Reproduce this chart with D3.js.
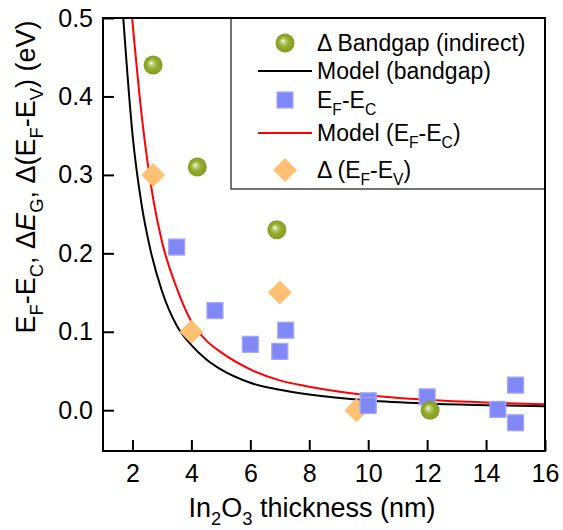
<!DOCTYPE html>
<html>
<head>
<meta charset="utf-8">
<script src="https://cdn.jsdelivr.net/npm/d3@7"></script>
<style>
  body { margin: 0; background: #fff; }
  svg { display: block; }
  text { font-family: "Liberation Sans", Arial, sans-serif; fill: #000; }
</style>
</head>
<body>
<svg id="chart" width="563" height="530"></svg>
<script>
// Axis ticks
const xTicks = [2, 4, 6, 8, 10, 12, 14, 16];
const yTicks = [0, 0.1, 0.2, 0.3, 0.4, 0.5];

// Δ Bandgap (indirect)
const gapThick = [2.7, 4.2, 6.9, 12.1];
const gapVal   = [0.44, 0.31, 0.23, 0.0];

// EF - EC
const ecThick = [3.5, 4.8, 6.0, 7.0, 7.2, 10.0, 10.0, 12.0, 14.4, 15.0, 15.0];
const ecVal   = [0.208, 0.127, 0.084, 0.075, 0.102, 0.012, 0.006, 0.017, 0.001, 0.032, -0.016];

// Δ (EF - EV)
const evThick = [2.7, 4.0, 7.0, 9.6];
const evVal   = [0.30, 0.10, 0.15, 0.0];

// Model (bandgap)
const modelGapThick = [1.69, 2.0, 2.31, 2.6, 3.0, 3.5, 4.0, 4.5, 5.0, 6.0, 7.0, 8.0, 10.0, 12.0, 14.0, 16.0];
const modelGapVal   = [0.499, 0.352, 0.262, 0.206, 0.152, 0.108, 0.083, 0.065, 0.052, 0.035, 0.026, 0.020, 0.0125, 0.0086, 0.0064, 0.0051];

// Model (EF - EC)
const modelEcThick = [1.99, 2.33, 2.71, 3.0, 3.5, 4.0, 4.5, 5.0, 6.0, 7.0, 8.0, 10.0, 12.0, 14.0, 16.0];
const modelEcVal   = [0.499, 0.370, 0.268, 0.215, 0.156, 0.113, 0.089, 0.074, 0.052, 0.038, 0.030, 0.019, 0.0132, 0.0097, 0.0077];

const svg = d3.select("#chart");
const L = 103, R = 545, T = 18, B = 451;

const x = d3.scaleLinear().domain([1, 16]).range([L, R]);
const y = d3.scaleLinear().domain([-0.052, 0.5]).range([B, T]);

// gradient for the shaded spheres
const defs = svg.append("defs");
const grad = defs.append("radialGradient").attr("id", "ball")
  .attr("cx", "0.5").attr("cy", "0.5").attr("r", "0.5")
  .attr("fx", "0.38").attr("fy", "0.38");
grad.append("stop").attr("offset", "0").attr("stop-color", "#ffffff");
grad.append("stop").attr("offset", "0.22").attr("stop-color", "#c3d080");
grad.append("stop").attr("offset", "0.55").attr("stop-color", "#94ac2c");
grad.append("stop").attr("offset", "1").attr("stop-color", "#839b21");

defs.append("clipPath").attr("id", "plotClip")
  .append("rect").attr("x", L).attr("y", T).attr("width", R - L).attr("height", B - T);

// helper for text with subscripts / italics
function richText(sel, parts, size) {
  const t = sel.style("font-size", size + "px");
  let shifted = false;
  parts.forEach(p => {
    const s = t.append("tspan").text(p.t);
    if (p.sub) {
      s.style("font-size", (size * 0.68) + "px");
      if (!shifted) { s.attr("dy", size * 0.3); shifted = true; }
    } else if (shifted) {
      s.attr("dy", -size * 0.3); shifted = false;
    }
    if (p.it) s.style("font-style", "italic");
  });
  return t;
}

// axes
const xAxis = d3.axisBottom(x).tickValues(xTicks).tickFormat(d3.format("d"))
  .tickSizeInner(-11).tickSizeOuter(0).tickPadding(13);
const yAxis = d3.axisLeft(y).tickValues(yTicks).tickFormat(d3.format(".1f"))
  .tickSizeInner(-11).tickSizeOuter(0).tickPadding(10);

const gx = svg.append("g").attr("transform", `translate(0,${B})`).call(xAxis);
const gy = svg.append("g").attr("transform", `translate(${L},0)`).call(yAxis);
[gx, gy].forEach(g => {
  g.select(".domain").remove();
  g.selectAll(".tick line").attr("stroke", "#000").attr("stroke-width", 2);
  g.selectAll(".tick text").style("font-size", "25px")
    .style("font-family", '"Liberation Sans", Arial, sans-serif').attr("fill", "#000");
});

// model curves
const line = d3.line().x(d => x(d[0])).y(d => y(d[1])).curve(d3.curveMonotoneX);
const plot = svg.append("g").attr("clip-path", "url(#plotClip)");
plot.append("path").datum(d3.zip(modelGapThick, modelGapVal))
  .attr("d", line).attr("fill", "none").attr("stroke", "#000").attr("stroke-width", 2);
plot.append("path").datum(d3.zip(modelEcThick, modelEcVal))
  .attr("d", line).attr("fill", "none").attr("stroke", "#ff0000").attr("stroke-width", 2);

// markers
const sq = 16, dia = 12, rBall = 9.5;
function square(g, cx, cy) {
  g.append("rect").attr("x", cx - sq / 2).attr("y", cy - sq / 2)
    .attr("width", sq).attr("height", sq)
    .attr("fill", "#8088f8").attr("stroke", "#a2a8fb").attr("stroke-width", 1.2);
}
function diamond(g, cx, cy) {
  g.append("path")
    .attr("d", `M${cx},${cy - dia}L${cx + dia},${cy}L${cx},${cy + dia}L${cx - dia},${cy}Z`)
    .attr("fill", "#fec173");
}
function ball(g, cx, cy) {
  g.append("circle").attr("cx", cx).attr("cy", cy).attr("r", rBall).attr("fill", "url(#ball)");
}

const marks = svg.append("g");
d3.zip(evThick, evVal).forEach(d => diamond(marks, x(d[0]), y(d[1])));
d3.zip(ecThick, ecVal).forEach(d => square(marks, x(d[0]), y(d[1])));
d3.zip(gapThick, gapVal).forEach(d => ball(marks, x(d[0]), y(d[1])));

// legend
const lg = svg.append("g");
lg.append("rect").attr("x", 231).attr("y", T).attr("width", R - 231).attr("height", 189 - T)
  .attr("fill", "#fff").attr("stroke", "#444").attr("stroke-width", 1.5);
const symX = 285, txtX = 317, lf = 23;
ball(lg, symX, 43);
lg.append("line").attr("x1", 258).attr("x2", 312).attr("y1", 71).attr("y2", 71)
  .attr("stroke", "#000").attr("stroke-width", 2);
square(lg, symX, 100);
lg.append("line").attr("x1", 258).attr("x2", 312).attr("y1", 133).attr("y2", 133)
  .attr("stroke", "#ff0000").attr("stroke-width", 2);
diamond(lg, symX, 170);

richText(lg.append("text").attr("x", txtX).attr("y", 51), [{ t: "Δ Bandgap (indirect)" }], lf);
richText(lg.append("text").attr("x", txtX).attr("y", 79), [{ t: "Model (bandgap)" }], lf);
richText(lg.append("text").attr("x", txtX).attr("y", 108),
  [{ t: "E" }, { t: "F", sub: true }, { t: "-E" }, { t: "C", sub: true }], lf);
richText(lg.append("text").attr("x", txtX).attr("y", 141),
  [{ t: "Model (E" }, { t: "F", sub: true }, { t: "-E" }, { t: "C", sub: true }, { t: ")" }], lf);
richText(lg.append("text").attr("x", txtX).attr("y", 178),
  [{ t: "Δ (E" }, { t: "F", sub: true }, { t: "-E" }, { t: "V", sub: true }, { t: ")" }], lf);

// plot frame
svg.append("rect").attr("x", L).attr("y", T).attr("width", R - L).attr("height", B - T)
  .attr("fill", "none").attr("stroke", "#000").attr("stroke-width", 2);

// axis titles
richText(svg.append("text").attr("x", 312).attr("y", 517).attr("text-anchor", "middle"),
  [{ t: "In" }, { t: "2", sub: true }, { t: "O" }, { t: "3", sub: true }, { t: " thickness (nm)" }], 27);

richText(svg.append("text").attr("transform", "translate(35,177) rotate(-90)").attr("text-anchor", "middle"),
  [{ t: "E" }, { t: "F", sub: true }, { t: "-E" }, { t: "C", sub: true }, { t: ", Δ" },
   { t: "E", it: true }, { t: "G", sub: true }, { t: ", Δ(E" }, { t: "F", sub: true }, { t: "-E" },
   { t: "V", sub: true }, { t: ") (eV)" }], 27);
</script>
</body>
</html>
